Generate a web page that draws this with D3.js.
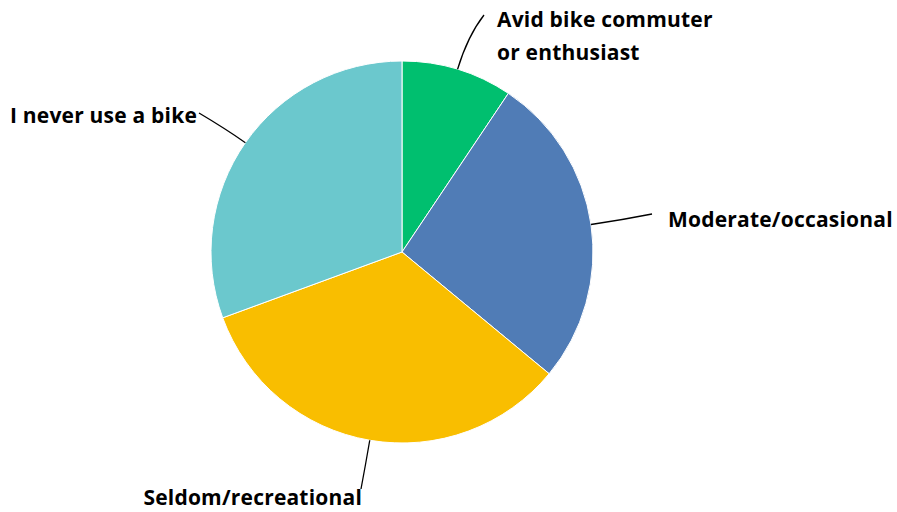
<!DOCTYPE html>
<html><head><meta charset="utf-8">
<script src="https://cdn.jsdelivr.net/npm/d3@7"></script>
<style>body{margin:0;background:#fff}svg{display:block}</style>
</head><body>
<svg id="c" width="897" height="512"></svg>
<script>
const categories = ["Avid bike commuter or enthusiast","Moderate/occasional","Seldom/recreational","I never use a bike"];
const labelLines = [["Avid bike commuter","or enthusiast"],["Moderate/occasional"],["Seldom/recreational"],["I never use a bike"]];
const values = [9.4, 26.6, 33.4, 30.6];
const colors = ["#00BF6F","#507CB6","#F9BE00","#6BC8CD"];

const cx = 402, cy = 252, R = 191;
const labelCfg = [
  {end:[82,-237], tx:95, ty:-225, anchor:"start", ext:35},
  {end:[250,-38], tx:266, ty:-25, anchor:"start", ext:30},
  {end:[-41,237], tx:-40, ty:253, anchor:"end", ext:25},
  {end:[-203,-139], tx:-205, ty:-129, anchor:"end", ext:25}
];

const svg = d3.select("#c");
const g = svg.append("g").attr("transform",`translate(${cx},${cy})`);
const pie = d3.pie().sort(null).value(d=>d)(values);
const arc = d3.arc().innerRadius(0).outerRadius(R);

g.selectAll("path.slice").data(pie).join("path")
  .attr("class","slice")
  .attr("d",arc)
  .attr("fill",(d,i)=>colors[i])
  .attr("stroke","#fff").attr("stroke-width",1);

pie.forEach((d,i)=>{
  const a = (d.startAngle+d.endAngle)/2;
  const ux = Math.sin(a), uy = -Math.cos(a);
  const c = labelCfg[i];
  const p0 = [ux*R, uy*R];
  const p1 = [ux*(R+c.ext), uy*(R+c.ext)];
  const p = d3.path();
  p.moveTo(p0[0],p0[1]);
  p.quadraticCurveTo(p1[0],p1[1],c.end[0],c.end[1]);
  g.append("path").attr("d",p.toString()).attr("fill","none")
    .attr("stroke","#000").attr("stroke-width",1.3);
  const t = g.append("text").attr("x",c.tx).attr("y",c.ty)
    .attr("text-anchor",c.anchor)
    .style("font-family","'Open Sans', sans-serif").style("font-weight","700")
    .style("font-size","21px").style("letter-spacing","0.2px").attr("fill","#000");
  labelLines[i].forEach((s,j)=>{
    t.append("tspan").attr("x",c.tx).attr("dy",j===0?0:33).text(s);
  });
});
</script>
</body></html>
